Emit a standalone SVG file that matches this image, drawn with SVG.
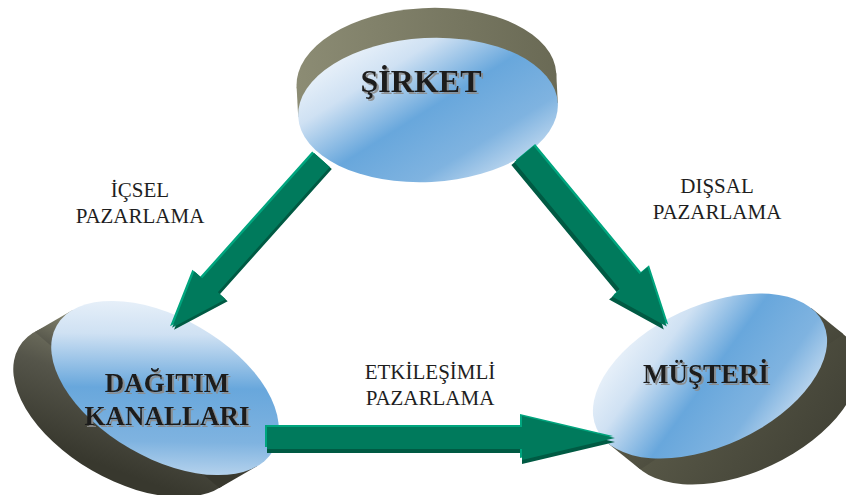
<svg xmlns="http://www.w3.org/2000/svg" xmlns:xlink="http://www.w3.org/1999/xlink" width="846" height="495" viewBox="0 0 846 495">
<defs>
<linearGradient id="face" x1="0" y1="0" x2="1" y2="1">
<stop offset="0" stop-color="#ffffff"/>
<stop offset="0.28" stop-color="#cfe1f3"/>
<stop offset="0.5" stop-color="#68a7dc"/>
<stop offset="0.72" stop-color="#7fb3e0"/>
<stop offset="1" stop-color="#eef3fa"/>
</linearGradient>
<linearGradient id="sideTop" x1="0" y1="0" x2="1" y2="0">
<stop offset="0" stop-color="#8c8c74"/>
<stop offset="1" stop-color="#6a6a55"/>
</linearGradient>
<linearGradient id="sideLeft" x1="0" y1="0" x2="0.3" y2="1">
<stop offset="0" stop-color="#8e8e76"/>
<stop offset="0.5" stop-color="#55554a"/>
<stop offset="1" stop-color="#38382e"/>
</linearGradient>
<linearGradient id="sideRight" x1="0" y1="0" x2="1" y2="1">
<stop offset="0" stop-color="#62624f"/>
<stop offset="1" stop-color="#3e3e33"/>
</linearGradient>
<filter id="tshadow" x="-10%" y="-20%" width="130%" height="150%">
<feDropShadow dx="2" dy="2" stdDeviation="0.4" flood-color="#8a8a8a" flood-opacity="0.9"/>
</filter>
<path id="a1" d="M0,-10.5 L168,-10.5 L168,-21 L225,0 L168,21 L168,10.5 L0,10.5Z" transform="translate(322,160) rotate(131.8)"/>
<path id="a2" d="M0,-12.5 L166,-12.5 L166,-23 L224,0 L166,23 L166,12.5 L0,12.5Z" transform="translate(524,154) rotate(50.4)"/>
<path id="a3" d="M0,-11 L255,-11 L255,-22 L348,0 L255,22 L255,11 L0,11Z" transform="translate(267,438)"/>
</defs>
<style>
.face{fill:url(#face);}
.lbl{font-family:"Liberation Serif","Times New Roman",serif;font-weight:bold;text-anchor:middle;fill:#1a1a1a;filter:url(#tshadow);}
.elbl{font-family:"Liberation Serif","Times New Roman",serif;font-size:21px;text-anchor:middle;fill:#1e1e1e;}
.dk{fill:#005a43;}
.lt{fill:#00a57e;}
.mn{fill:#007a5c;}
</style>
<rect width="846" height="495" fill="#ffffff"/>

<g id="node-sirket">
<g transform="translate(428,110) rotate(-3)">
<ellipse cx="0" cy="-30" rx="130" ry="72" fill="url(#sideTop)"/>
<rect x="-130" y="-30" width="260" height="30" fill="url(#sideTop)"/>
<ellipse class="face" cx="0" cy="0" rx="130" ry="72"/>
</g>
<text class="lbl" x="421" y="92" font-size="32">ŞİRKET</text>
</g>

<g id="node-dagitim">
<g transform="translate(165,388) rotate(30)">
<ellipse cx="-21.9" cy="38" rx="125" ry="70" fill="url(#sideLeft)"/>
<polygon points="118.9,21.5 -118.9,-21.5 -140.8,16.5 97,59.5" fill="url(#sideLeft)"/>
<ellipse class="face" cx="0" cy="0" rx="125" ry="70"/>
</g>
<text class="lbl" x="167" y="392" font-size="27">DAĞITIM</text>
<text class="lbl" x="167" y="425" font-size="27">KANALLARI</text>
</g>

<g id="node-musteri">
<g transform="translate(710,376) rotate(-25)">
<ellipse cx="18" cy="37" rx="125" ry="70" fill="url(#sideRight)"/>
<polygon points="120.6,-18.4 -120.6,18.4 -102.6,55.4 138.6,18.7" fill="url(#sideRight)"/>
<ellipse class="face" cx="0" cy="0" rx="125" ry="70"/>
</g>
<text class="lbl" x="706" y="383" font-size="27">MÜŞTERİ</text>
</g>

<g id="connectors">
<g id="arrow-sirket-dagitim">
<use xlink:href="#a1" class="dk" transform="translate(2,2)"/>
<use xlink:href="#a1" class="lt" transform="translate(-2,-1.5)"/>
<use xlink:href="#a1" class="mn"/>
</g>
<g id="arrow-sirket-musteri">
<use xlink:href="#a2" class="dk" transform="translate(-3,3)"/>
<use xlink:href="#a2" class="lt" transform="translate(1.5,-2)"/>
<use xlink:href="#a2" class="mn"/>
</g>
<g id="arrow-dagitim-musteri">
<use xlink:href="#a3" class="dk" transform="translate(0,4)"/>
<use xlink:href="#a3" class="lt" transform="translate(-2,-2)"/>
<use xlink:href="#a3" class="mn"/>
</g>
</g>

<g id="edge-labels">
<text class="elbl" x="140" y="197">İÇSEL</text>
<text class="elbl" x="140" y="223">PAZARLAMA</text>
<text class="elbl" x="717" y="193">DIŞSAL</text>
<text class="elbl" x="717" y="219">PAZARLAMA</text>
<text class="elbl" x="430" y="379">ETKİLEŞİMLİ</text>
<text class="elbl" x="430" y="405">PAZARLAMA</text>
</g>
</svg>
